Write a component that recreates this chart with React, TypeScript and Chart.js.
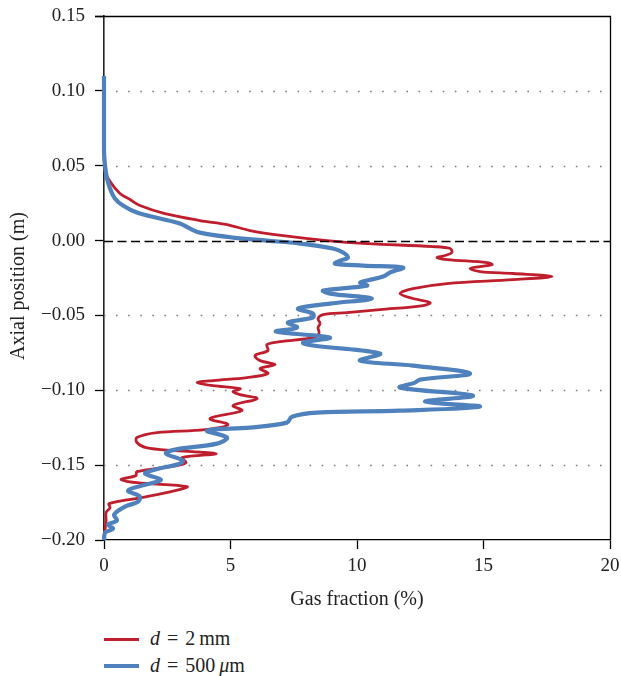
import React, { useEffect, useRef } from "react";
import { Chart, registerables } from "chart.js";

Chart.register(...registerables);

// Gas fraction (%) against axial position (m), traced top to bottom along each profile.
const seriesLabels = ["d = 2 mm", "d = 500 μm"];

const positionRed = [
  0.11, 0.06, 0.0468, 0.0394, 0.0314, 0.0274, 0.0234, 0.018, 0.0134, 0.0107, 0.0067, 0.0033, 0.0,
  -0.002, -0.004, -0.0053, -0.008, -0.01, -0.0114, -0.0127, -0.0147, -0.016, -0.0174, -0.0187,
  -0.0207, -0.022, -0.024, -0.0261, -0.0287, -0.0321, -0.0354, -0.0387, -0.0414, -0.0434, -0.0461,
  -0.0481, -0.0494, -0.0521, -0.0554, -0.0581, -0.0621, -0.0648, -0.0675, -0.0695, -0.0735, -0.0768,
  -0.0802, -0.0828, -0.0855, -0.0888, -0.0915, -0.0935, -0.0949, -0.0969, -0.0989, -0.1009, -0.1029,
  -0.1056, -0.1102, -0.1136, -0.1189, -0.1229, -0.1263, -0.1283, -0.1316, -0.1349, -0.1383, -0.1403,
  -0.1423, -0.145, -0.1483, -0.1503, -0.1543, -0.157, -0.1596, -0.1617, -0.1643, -0.167, -0.1717,
  -0.1757, -0.1784, -0.1817, -0.187, -0.1984,
];
const fractionRed = [
  0, 0, 0.04, 0.24, 0.63, 1.03, 1.42, 2.41, 3.79, 4.86, 5.77, 7.08, 8.81,
  10.4, 13.0, 13.68, 13.75, 13.48, 13.16, 13.56, 15.14, 15.34, 14.86, 14.47,
  14.86, 16.17, 17.71, 16.17, 13.56, 12.21, 11.7, 12.21, 12.89, 12.61, 10.91,
  9.6, 8.66, 8.46, 8.54, 8.46, 8.5, 8.26, 6.96, 6.44, 6.48, 5.97,
  6.17, 6.76, 6.17, 6.48, 5.65, 4.31, 3.68, 4.31, 5.38, 5.1, 5.38,
  6.05, 5.1, 5.45, 4.19, 4.9, 3.99, 2.09, 1.3, 1.3, 1.66, 2.81,
  4.43, 3.08, 3.24, 2.89, 1.3, 1.26, 0.67, 1.3, 3.28, 2.81, 1.46,
  0.2, 0.24, 0.08, 0.08, 0,
];

const positionBlue = [
  0.11, 0.06, 0.0501, 0.0414, 0.0347, 0.0281, 0.0234, 0.0187, 0.0147, 0.0114, 0.008, 0.0053, 0.002,
  0.0, -0.002, -0.0053, -0.008, -0.0114, -0.0134, -0.0154, -0.0167, -0.018, -0.0214, -0.024,
  -0.0267, -0.0281, -0.0301, -0.0334, -0.0354, -0.0387, -0.0421, -0.0454, -0.0488, -0.0514, -0.0548,
  -0.0581, -0.0608, -0.0648, -0.0681, -0.0701, -0.0755, -0.0802, -0.0835, -0.0888, -0.0929, -0.0949,
  -0.0982, -0.1036, -0.1076, -0.1109, -0.1136, -0.1149, -0.1176, -0.1216, -0.1249, -0.1269, -0.1316,
  -0.1356, -0.1396, -0.1423, -0.147, -0.1496, -0.1523, -0.1557, -0.1597, -0.163, -0.167, -0.171,
  -0.1744, -0.1777, -0.183, -0.187, -0.1897, -0.1924, -0.1951, -0.2,
];
const fractionBlue = [
  0, 0, 0.04, 0.12, 0.24, 0.43, 0.75, 1.3, 2.21, 3.0, 3.4, 3.79, 5.1,
  6.44, 7.75, 9.05, 9.45, 9.64, 9.33, 9.13, 10.24, 11.82, 11.3, 11.03,
  10.4, 10.12, 10.4, 8.66, 8.93, 10.59, 8.93, 7.67, 8.26, 8.26, 7.27,
  7.63, 6.8, 8.93, 7.87, 8.26, 10.91, 10.12, 12.21, 14.47, 12.49, 12.29,
  11.7, 14.58, 12.69, 14.86, 11.7, 8.42, 7.43, 7.23, 5.77, 4.07, 4.86,
  4.47, 2.81, 2.45, 3.12, 2.89, 2.17, 1.62, 2.25, 1.66, 0.95, 1.42,
  1.34, 0.83, 0.4, 0.51, 0.16, 0.36, 0.04, 0,
];

const gasFractionTicks = [0, 5, 10, 15, 20];
const positionTicks = [-0.2, -0.15, -0.1, -0.05, 0, 0.05, 0.1, 0.15];

const RED = "#be1e2d";
const BLUE = "#4f81bd";
const FONT = "'Liberation Serif', 'Times New Roman', serif";

const formatPosition = (v: number) => {
  if (Math.abs(v) < 1e-9) return "0.00";
  return v < 0 ? "\u2212" + Math.abs(v).toFixed(2) : v.toFixed(2);
};

const toPoints = (xs: number[], ys: number[]) => xs.map((x, i) => ({ x, y: ys[i] }));

// Frame, dotted reference lines, dashed zero line and the two axis titles.
const decorations = {
  id: "decorations",
  beforeDatasetsDraw(chart: any) {
    const { ctx, chartArea, scales } = chart;
    const y = scales.y;
    ctx.save();
    ctx.strokeStyle = "#7a7a7a";
    ctx.lineWidth = 1.6;
    ctx.setLineDash([1.6, 10.5]);
    ctx.lineDashOffset = -12;
    positionTicks.forEach((v) => {
      if (Math.abs(v) < 1e-9 || v === positionTicks[0] || v === positionTicks[positionTicks.length - 1]) return;
      const py = Math.round(y.getPixelForValue(v)) + 0.5;
      ctx.beginPath();
      ctx.moveTo(chartArea.left, py);
      ctx.lineTo(chartArea.right - 2, py);
      ctx.stroke();
    });
    ctx.restore();
  },
  afterDatasetsDraw(chart: any) {
    const { ctx, chartArea, scales } = chart;
    const y = scales.y;
    ctx.save();
    // zero line
    const py0 = Math.round(y.getPixelForValue(0)) + 0.5;
    ctx.strokeStyle = "#000";
    ctx.lineWidth = 1.3;
    ctx.setLineDash([9, 4.5]);
    ctx.beginPath();
    ctx.moveTo(chartArea.left, py0);
    ctx.lineTo(chartArea.right, py0);
    ctx.stroke();
    // top and right frame
    ctx.setLineDash([]);
    ctx.lineWidth = 1.3;
    ctx.beginPath();
    ctx.moveTo(chartArea.left - 9, chartArea.top + 0.5);
    ctx.lineTo(chartArea.right + 0.5, chartArea.top + 0.5);
    ctx.lineTo(chartArea.right + 0.5, chartArea.bottom);
    ctx.stroke();
    // axis titles
    ctx.fillStyle = "#222";
    ctx.font = `20px ${FONT}`;
    ctx.textAlign = "center";
    ctx.textBaseline = "middle";
    ctx.fillText("Gas fraction (%)", (chartArea.left + chartArea.right) / 2, chartArea.bottom + 60);
    ctx.translate(19, (chartArea.top + chartArea.bottom) / 2 + 8);
    ctx.rotate(-Math.PI / 2);
    ctx.fillText("Axial position (m)", 0, 0);
    ctx.restore();
  },
};

const CANVAS_W = 621;
const CANVAS_H = 612;

export default function App() {
  const canvasRef = useRef<HTMLCanvasElement | null>(null);

  useEffect(() => {
    if (!canvasRef.current) return;
    const chart = new Chart(canvasRef.current, {
      type: "scatter",
      data: {
        datasets: [
          {
            label: seriesLabels[0],
            data: toPoints(fractionRed, positionRed),
            showLine: true,
            borderColor: RED,
            backgroundColor: RED,
            borderWidth: 2.8,
            pointRadius: 0,
            tension: 0.35,
            clip: false,
            order: 2,
          },
          {
            label: seriesLabels[1],
            data: toPoints(fractionBlue, positionBlue),
            showLine: true,
            borderColor: BLUE,
            backgroundColor: BLUE,
            borderWidth: 4.2,
            pointRadius: 0,
            tension: 0.35,
            clip: false,
            order: 1,
          },
        ],
      },
      options: {
        responsive: false,
        animation: false,
        devicePixelRatio: 1,
        layout: { padding: { top: 16, right: 11, left: 0, bottom: 0 } },
        plugins: { legend: { display: false }, tooltip: { enabled: false } },
        scales: {
          x: {
            type: "linear",
            min: 0,
            max: 20,
            afterBuildTicks: (scale: any) => {
              scale.ticks = gasFractionTicks.map((value) => ({ value }));
            },
            afterFit: (scale: any) => {
              scale.height = CANVAS_H - 540;
              scale.paddingLeft = 0;
              scale.paddingRight = 0;
            },
            grid: {
              drawOnChartArea: false,
              drawTicks: true,
              tickLength: 9,
              tickColor: "#000",
              tickWidth: 1.3,
            },
            border: { display: true, color: "#000", width: 1.3 },
            ticks: {
              color: "#222",
              padding: 6,
              font: { family: FONT, size: 19 },
              maxRotation: 0,
            },
          },
          y: {
            type: "linear",
            min: -0.2,
            max: 0.15,
            afterBuildTicks: (scale: any) => {
              scale.ticks = positionTicks.map((value) => ({ value }));
            },
            afterFit: (scale: any) => {
              scale.width = 104;
              scale.paddingTop = 0;
              scale.paddingBottom = 0;
            },
            grid: {
              drawOnChartArea: false,
              drawTicks: true,
              tickLength: 9,
              tickColor: "#000",
              tickWidth: 1.3,
            },
            border: { display: true, color: "#222", width: 1.6 },
            ticks: {
              color: "#222",
              padding: 10,
              font: { family: FONT, size: 19 },
              callback: (v: any) => formatPosition(Number(v)),
            },
          },
        },
      },
      plugins: [decorations],
    });
    return () => chart.destroy();
  }, []);

  const legendText: React.CSSProperties = {
    position: "absolute",
    left: 150,
    fontFamily: FONT,
    fontSize: 20,
    color: "#222",
    lineHeight: "22px",
    whiteSpace: "nowrap",
    wordSpacing: 2,
  };
  const legendLine = (color: string, top: number, h: number): React.CSSProperties => ({
    position: "absolute",
    left: 104,
    top: top - h / 2,
    width: 35,
    height: h,
    background: color,
  });

  return (
    <div style={{ position: "absolute", left: 0, top: 0, width: CANVAS_W, height: 676, background: "#fff", overflow: "hidden" }}>
      <canvas
        ref={canvasRef}
        width={CANVAS_W}
        height={CANVAS_H}
        style={{ display: "block", width: CANVAS_W, height: CANVAS_H }}
      />
      <div style={legendLine(RED, 639, 3)} />
      <div style={{ ...legendText, top: 627 }}>
        <i>d</i> = 2&#8201;mm
      </div>
      <div style={legendLine(BLUE, 666, 4)} />
      <div style={{ ...legendText, top: 654 }}>
        <i>d</i> = 500&#8201;<i>μ</i>m
      </div>
    </div>
  );
}
